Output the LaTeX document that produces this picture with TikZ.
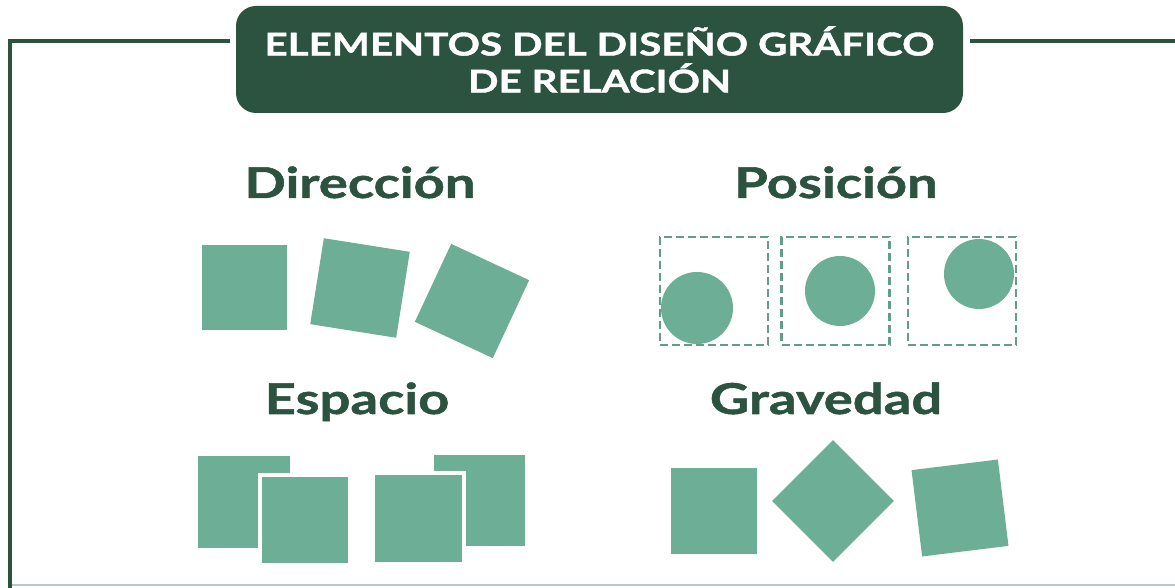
\documentclass[tikz,border=0pt]{standalone}
\usepackage{fontspec}
\setmainfont{Lato}
\newfontfamily\widefont[FakeStretch=1.28,BoldFeatures={FakeBold=1.2}]{Lato}
\definecolor{darkgreen}{RGB}{44,82,64}
\definecolor{tilegreen}{RGB}{108,174,150}
\definecolor{dashgreen}{RGB}{100,156,140}
\definecolor{paleline}{RGB}{175,205,195}

\begin{document}
\begin{tikzpicture}[x=1pt,y=1pt,
    frame/.style={draw=darkgreen,line width=4.5pt},
    tile/.style={fill=tilegreen,inner sep=0pt,outer sep=0pt,minimum size=#1},
    gapped/.style={tile=#1,draw=white,line width=4pt},
    slot/.style={draw=dashgreen,line width=2.8pt,dash pattern=on 8pt off 4pt,inner sep=0pt,minimum size=108},
    dot/.style={circle,fill=tilegreen,inner sep=0pt,minimum size=#1},
    heading/.style={anchor=base,text=darkgreen,font=\widefont\bfseries\fontsize{42.5}{46}\selectfont}]
    \useasboundingbox (0,0) rectangle (1175,588);

    % frame and title
    \node[fill=darkgreen,rounded corners=20pt,minimum width=727,minimum height=107,
        text=white,align=center,font=\widefont\bfseries\fontsize{31.5}{37}\selectfont] (title) at (599.5,528.5)
        {ELEMENTOS DEL DISEÑO GRÁFICO\\DE RELACIÓN};
    \coordinate (tl) at (10,547);
    \coordinate (bl) at (10,0);
    \coordinate (tr) at (1175,547);
    \coordinate (la) at (230,547);
    \coordinate (ra) at (970,547);
    \draw[frame] (la) -- (tl) -- (bl);
    \draw[frame] (ra) -- (tr);
    \coordinate (b1) at (12,3);
    \coordinate (b2) at (1175,3);
    \draw[paleline,line width=1.5pt] (b1) -- (b2);

    % headings
    \node[heading] (hdir) at (360,390) {Dirección};
    \node[heading] (hpos) at (836,390) {Posición};
    \node[heading] (hesp) at (357,174) {Espacio};
    \node[heading] (hgra) at (826,174) {Gravedad};

    % direccion
    \node[tile=85] (d1) at (244.5,300.5) {};
    \node[tile=87,rotate=-9] (d2) at (360,300) {};
    \node[tile=86,rotate=-25] (d3) at (472,287) {};

    % posicion
    \node[slot] (p1) at (714,297) {};
    \node[slot] (p2) at (835.5,297) {};
    \node[slot] (p3) at (962,297) {};
    \node[dot=72] (c1) at (697,280) {};
    \node[dot=70] (c2) at (840,297) {};
    \node[dot=70] (c3) at (979,314) {};

    % espacio
    \node[tile=92] (e1) at (244,85.5) {};
    \node[gapped=90] (e2) at (305,68) {};
    \node[tile=91] (e4) at (479,87) {};
    \node[gapped=91] (e3) at (418.5,69) {};

    % gravedad
    \node[tile=86] (g1) at (714,77) {};
    \node[tile=86,rotate=45] (g2) at (833,87) {};
    \node[tile=87,rotate=7] (g3) at (960,80) {};
\end{tikzpicture}
\end{document}
